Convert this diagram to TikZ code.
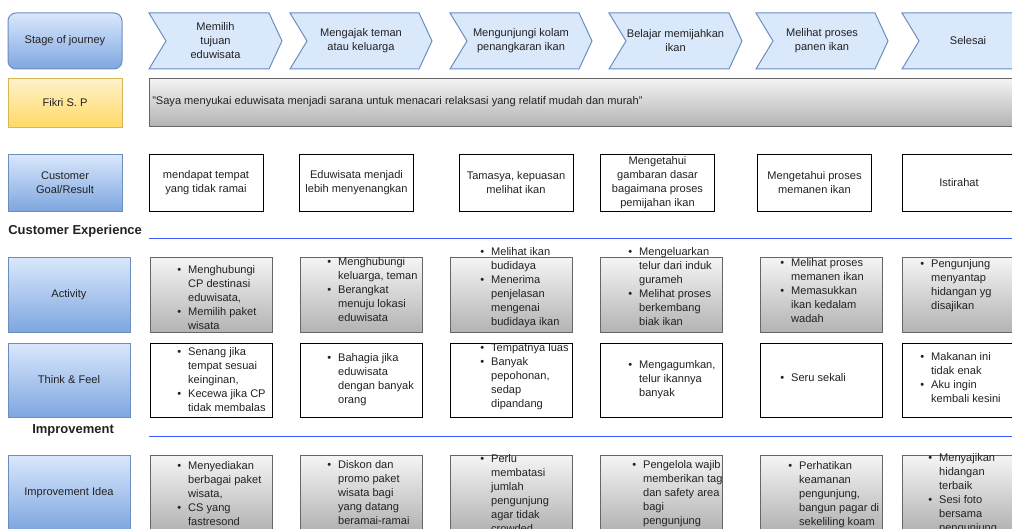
\documentclass[tikz,border=0pt]{standalone}
\usepackage{fontspec}
\setmainfont{Liberation Sans}
\usetikzlibrary{positioning}
\definecolor{stepfill}{HTML}{DAE8FC}
\definecolor{stepline}{HTML}{6C8EBF}
\definecolor{lanebot}{HTML}{7EA6E0}
\definecolor{userfill}{HTML}{FFF2CC}
\definecolor{userbot}{HTML}{FFD966}
\definecolor{userline}{HTML}{D6B656}
\definecolor{greytop}{HTML}{F5F5F5}
\definecolor{greybot}{HTML}{B3B3B3}
\definecolor{greyline}{HTML}{666666}
\definecolor{sectline}{HTML}{3D5AFE}
\definecolor{ink}{HTML}{222222}
\newcommand{\drawstep}[4]{
    \draw[stepline, fill=stepfill, line width=0.75pt] (#2,13) -- ({#3-13},13) -- (#3,41) -- ({#3-13},69) -- (#2,69) -- ({#2+17},41) -- cycle;
    \node[align=center] (#1) at ({(#2+#3)/2},41) {#4};
}
\newcommand{\blist}[1]{\begin{tabular}{@{}l@{\hspace{5.25pt}}l@{}}#1\end{tabular}}
\tikzset{
    every node/.style={font=\fontsize{8.3}{10.5}\selectfont, text=ink, inner sep=0pt},
    lanebox/.style={draw=stepline, line width=0.75pt, top color=stepfill, bottom color=lanebot, align=center},
    userbox/.style={draw=userline, line width=0.75pt, top color=userfill, bottom color=userbot, align=center},
    greybox/.style={draw=greyline, line width=0.75pt, top color=greytop, bottom color=greybot, minimum width=91.5pt, minimum height=56.25pt},
    goalbox/.style={draw=black, line width=0.75pt, fill=white, align=center, minimum width=85.5pt, minimum height=42.75pt},
    feelbox/.style={draw=black, line width=0.75pt, fill=white, minimum width=91.5pt, minimum height=55.5pt},
    bullets/.style={anchor=west, align=left},
    section/.style={anchor=west, font=\fontsize{9.75}{12}\selectfont\bfseries},
    sectrule/.style={sectline, line width=0.75pt}
}

\begin{document}
\begin{tikzpicture}[x=0.75pt, y=-0.75pt]
\useasboundingbox (0,0) rectangle (1012,528);
\clip (0,0) rectangle (1012,528);

% stages
\node[lanebox, rounded corners=6pt, minimum width=85.5pt, minimum height=42pt] (stage) at (65,41) {Stage of journey};
\drawstep{s1}{149}{282}{Memilih\\tujuan\\eduwisata}
\drawstep{s2}{290}{432}{Mengajak teman\\atau keluarga}
\drawstep{s3}{450}{592}{Mengunjungi kolam\\penangkaran ikan}
\drawstep{s4}{609}{742}{Belajar memijahkan\\ikan}
\drawstep{s5}{756}{888}{Melihat proses\\panen ikan}
\drawstep{s6}{902}{1034}{Selesai}

% persona
\node[userbox, minimum width=85.5pt, minimum height=36.75pt] (persona) at (65,102.5) {Fikri S. P};
\node[draw=greyline, line width=0.75pt, top color=greytop, bottom color=greybot, minimum width=660.75pt, minimum height=36pt] (quote) at (589.5,102) {};
\node[anchor=west] (quotetext) at (152,102) {"Saya menyukai eduwisata menjadi sarana untuk menacari relaksasi yang relatif mudah dan murah"};

% goals
\node[lanebox, minimum width=85.5pt, minimum height=42.75pt] (goal) at (65,182.5) {Customer\\Goal/Result};
\node[goalbox] (g1) at (206,182.5) {mendapat tempat\\yang tidak ramai};
\node[goalbox] (g2) at (356.5,182.5) {Eduwisata menjadi\\lebih menyenangkan};
\node[goalbox] (g3) at (516,182.5) {Tamasya, kepuasan\\melihat ikan};
\node[goalbox] (g4) at (657.5,182.5) {Mengetahui\\gambaran dasar\\bagaimana proses\\pemijahan ikan};
\node[goalbox] (g5) at (814.5,182.5) {Mengetahui proses\\memanen ikan};
\node[goalbox] (g6) at (959,182.5) {Istirahat};

\node[section] (experience) at (8,231) {Customer Experience};
\draw[sectrule] (149,238) -- (1012,238);

% activity
\node[lanebox, minimum width=91.5pt, minimum height=56.25pt] (activity) at (69,294.5) {Activity};
\node[greybox] (a1) at (211,294.5) {};
\node[greybox] (a2) at (361,294.5) {};
\node[greybox] (a3) at (511,294.5) {};
\node[greybox] (a4) at (661.5,294.5) {};
\node[greybox] (a5) at (821,294.5) {};
\node[greybox] (a6) at (963,294.5) {};
\node[bullets] (a1t) at (177,299) {\blist{\textbullet & Menghubungi\\ & CP destinasi\\ & eduwisata,\\ \textbullet & Memilih paket\\ & wisata}};
\node[bullets] (a2t) at (327,291) {\blist{\textbullet & Menghubungi\\ & keluarga, teman\\ \textbullet & Berangkat\\ & menuju lokasi\\ & eduwisata}};
\node[bullets] (a3t) at (480,288) {\blist{\textbullet & Melihat ikan\\ & budidaya\\ \textbullet & Menerima\\ & penjelasan\\ & mengenai\\ & budidaya ikan}};
\node[bullets] (a4t) at (628,288) {\blist{\textbullet & Mengeluarkan\\ & telur dari induk\\ & gurameh\\ \textbullet & Melihat proses\\ & berkembang\\ & biak ikan}};
\node[bullets] (a5t) at (780,292) {\blist{\textbullet & Melihat proses\\ & memanen ikan\\ \textbullet & Memasukkan\\ & ikan kedalam\\ & wadah}};
\node[bullets] (a6t) at (920,286) {\blist{\textbullet & Pengunjung\\ & menyantap\\ & hidangan yg\\ & disajikan}};

% think and feel
\node[lanebox, minimum width=91.5pt, minimum height=55.5pt] (think) at (69,380) {Think \& Feel};
\node[feelbox] (t1) at (211,380) {};
\node[feelbox] (t2) at (361,380) {};
\node[feelbox] (t3) at (511,380) {};
\node[feelbox] (t4) at (661.5,380) {};
\node[feelbox] (t5) at (821,380) {};
\node[feelbox] (t6) at (963,380) {};
\node[bullets] (t1t) at (177,381) {\blist{\textbullet & Senang jika\\ & tempat sesuai\\ & keinginan,\\ \textbullet & Kecewa jika CP\\ & tidak membalas}};
\node[bullets] (t2t) at (327,380) {\blist{\textbullet & Bahagia jika\\ & eduwisata\\ & dengan banyak\\ & orang}};
\node[bullets] (t3t) at (480,376.5) {\blist{\textbullet & Tempatnya luas\\ \textbullet & Banyak\\ & pepohonan,\\ & sedap\\ & dipandang}};
\node[bullets] (t4t) at (628,380) {\blist{\textbullet & Mengagumkan,\\ & telur ikannya\\ & banyak}};
\node[bullets] (t5t) at (780,379) {\blist{\textbullet & Seru sekali}};
\node[bullets] (t6t) at (920,379) {\blist{\textbullet & Makanan ini\\ & tidak enak\\ \textbullet & Aku ingin\\ & kembali kesini}};

\node[section] (improvement) at (32,430) {Improvement};
\draw[sectrule] (149,436) -- (1012,436);

% improvement ideas
\node[lanebox, minimum width=91.5pt, minimum height=56.25pt] (idea) at (69,492.5) {Improvement Idea};
\node[greybox] (i1) at (211,492.5) {};
\node[greybox] (i2) at (361,492.5) {};
\node[greybox] (i3) at (511,492.5) {};
\node[greybox] (i4) at (661.5,492.5) {};
\node[greybox] (i5) at (821,492.5) {};
\node[greybox] (i6) at (963,492.5) {};
\node[bullets] (i1t) at (177,495) {\blist{\textbullet & Menyediakan\\ & berbagai paket\\ & wisata,\\ \textbullet & CS yang\\ & fastresond}};
\node[bullets] (i2t) at (327,494) {\blist{\textbullet & Diskon dan\\ & promo paket\\ & wisata bagi\\ & yang datang\\ & beramai-ramai}};
\node[bullets] (i3t) at (480,494.5) {\blist{\textbullet & Perlu\\ & membatasi\\ & jumlah\\ & pengunjung\\ & agar tidak\\ & crowded}};
\node[bullets] (i4t) at (632,494) {\blist{\textbullet & Pengelola wajib\\ & memberikan tag\\ & dan safety area\\ & bagi\\ & pengunjung}};
\node[bullets] (i5t) at (788,494.5) {\blist{\textbullet & Perhatikan\\ & keamanan\\ & pengunjung,\\ & bangun pagar di\\ & sekeliling koam}};
\node[bullets] (i6t) at (928,494) {\blist{\textbullet & Menyajikan\\ & hidangan\\ & terbaik\\ \textbullet & Sesi foto\\ & bersama\\ & pengunjung}};
\end{tikzpicture}
\end{document}
